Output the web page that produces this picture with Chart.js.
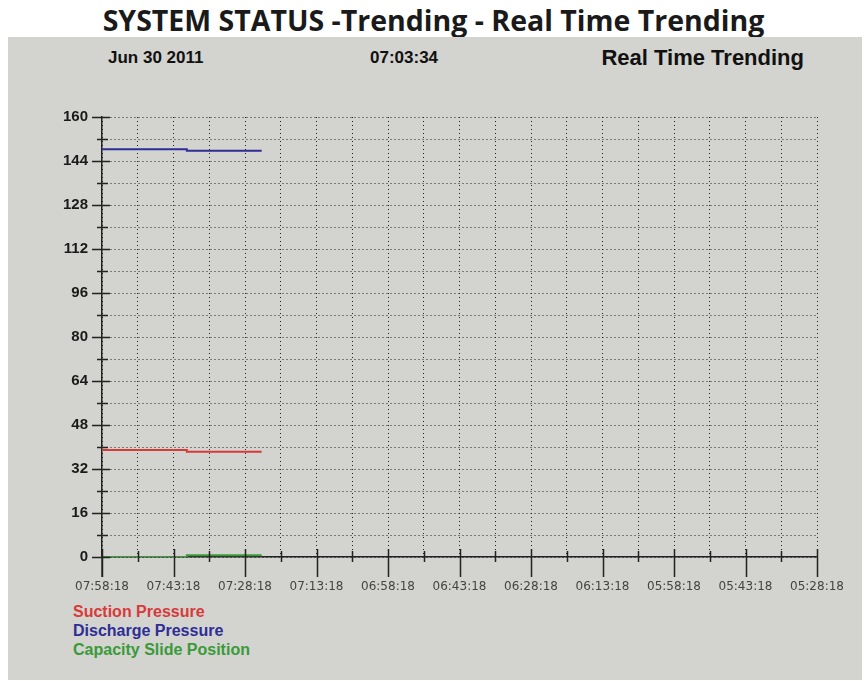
<!DOCTYPE html>
<html>
<head>
<meta charset="utf-8">
<script src="https://cdn.jsdelivr.net/npm/chart.js@4.4.0/dist/chart.umd.min.js"></script>
<style>
  html, body { margin: 0; padding: 0; background: #fff; }
  #page { position: relative; width: 867px; height: 681px; overflow: hidden; font-family: 'Liberation Sans', Arial, sans-serif; }
  #title { position: absolute; left: 0; top: 1px; width: 867px; text-align: center; font: bold 28.5px 'Open Sans', sans-serif; color: #1a1a1a; white-space: nowrap; }
  #panel { position: absolute; left: 8px; top: 37px; width: 854px; height: 643px; background: #d3d3cf; }
  .hdr { position: absolute; top: 48px; font-weight: bold; font-size: 17px; color: #111; white-space: nowrap; }
  #rtt { position: absolute; top: 45px; right: 63px; font-size: 22px; font-weight: bold; color: #111; white-space: nowrap; }
  #legend { position: absolute; left: 73px; top: 602px; font-weight: bold; font-size: 16px; line-height: 19px; }
  canvas { position: absolute; left: 0; top: 0; }
</style>
</head>
<body>
<div id="page">
  <div id="title">SYSTEM STATUS -Trending - Real Time Trending</div>
  <div id="panel"></div>
  <div class="hdr" style="left:108px">Jun 30 2011</div>
  <div class="hdr" style="left:370px">07:03:34</div>
  <div id="rtt">Real Time Trending</div>
  <div id="legend"></div>
  <canvas id="trendChart" width="867" height="681"></canvas>
</div>
<script>
// time axis: minutes back from 07:58:18, labels every 15 min
const timeLabels = ['07:58:18', '07:43:18', '07:28:18', '07:13:18', '06:58:18', '06:43:18',
                    '06:28:18', '06:13:18', '05:58:18', '05:43:18', '05:28:18'];
const sampleMinutes = [0, 17.8, 33.5];
const suctionPressure = [38.9, 38.3, 38.3];
const dischargePressure = [148.3, 147.7, 147.7];
const capacitySlide = [0, 0.6, 0.6];
const seriesNames = ['Suction Pressure', 'Discharge Pressure', 'Capacity Slide Position'];
const seriesColors = ['#d83a3a', '#2e2e96', '#3a9a3a'];

function toPoints(values) {
  return values.map(function (v, i) { return { x: sampleMinutes[i], y: v }; });
}

// legend as plain text lines
const legendEl = document.getElementById('legend');
seriesNames.forEach(function (name, i) {
  const d = document.createElement('div');
  d.textContent = name;
  d.style.color = seriesColors[i];
  legendEl.appendChild(d);
});

// tick marks crossing the axes, major at labels, minor between
const axisTicks = {
  id: 'axisTicks',
  afterDraw(chart) {
    const ctx = chart.ctx;
    const xs = chart.scales.x, ys = chart.scales.y;
    const left = chart.chartArea.left, bottom = chart.chartArea.bottom;
    ctx.save();
    ctx.strokeStyle = '#222';
    ctx.lineWidth = 1.5;
    ctx.beginPath();
    ctx.moveTo(left, bottom);
    ctx.lineTo(left, bottom + 20);
    for (let v = 0; v <= 160; v += 8) {
      const y = Math.round(ys.getPixelForValue(v)) + 0.5;
      const major = v % 16 === 0;
      ctx.moveTo(left - (major ? 10 : 5), y);
      ctx.lineTo(left + (major ? 8 : 6), y);
    }
    for (let m = 0; m <= 150; m += 7.5) {
      const x = Math.round(xs.getPixelForValue(m)) + 0.5;
      const major = m % 15 === 0;
      ctx.moveTo(x, bottom - (major ? 8 : 6));
      ctx.lineTo(x, bottom + (major ? 20 : 5));
    }
    ctx.stroke();
    ctx.restore();
  }
};

new Chart(document.getElementById('trendChart'), {
  type: 'line',
  data: {
    datasets: [
      { label: seriesNames[0], data: toPoints(suctionPressure), borderColor: seriesColors[0] },
      { label: seriesNames[1], data: toPoints(dischargePressure), borderColor: seriesColors[1] },
      { label: seriesNames[2], data: toPoints(capacitySlide), borderColor: seriesColors[2] }
    ]
  },
  options: {
    responsive: false,
    animation: false,
    layout: { padding: { left: 0, right: 50, top: 117, bottom: 84 } },
    elements: {
      line: { borderWidth: 2, stepped: true, fill: false },
      point: { radius: 0 }
    },
    plugins: { legend: { display: false }, tooltip: { enabled: false } },
    scales: {
      x: {
        type: 'linear',
        min: 0,
        max: 150,
        afterFit: function (s) { s.height = 40; },
        grid: { color: '#222', lineWidth: 1, drawTicks: false },
        border: { color: '#222', width: 1.5, dash: [1, 3] },
        ticks: {
          stepSize: 7.5,
          autoSkip: false,
          maxRotation: 0,
          padding: 23,
          color: '#444',
          font: { family: 'DejaVu Sans', size: 12 },
          callback: function (value) {
            return value % 15 === 0 ? timeLabels[value / 15] : '';
          }
        }
      },
      y: {
        min: 0,
        max: 160,
        afterFit: function (s) { s.width = 102; },
        grid: { color: '#222', lineWidth: 1, drawTicks: false },
        border: { color: '#222', width: 1.5, dash: [1, 3] },
        ticks: {
          stepSize: 8,
          autoSkip: false,
          padding: 14,
          color: '#1a1a1a',
          font: { family: 'Liberation Sans', size: 15, weight: 'bold' },
          callback: function (value) {
            return value % 16 === 0 ? value : '';
          }
        }
      }
    }
  },
  plugins: [axisTicks]
});
</script>
</body>
</html>
